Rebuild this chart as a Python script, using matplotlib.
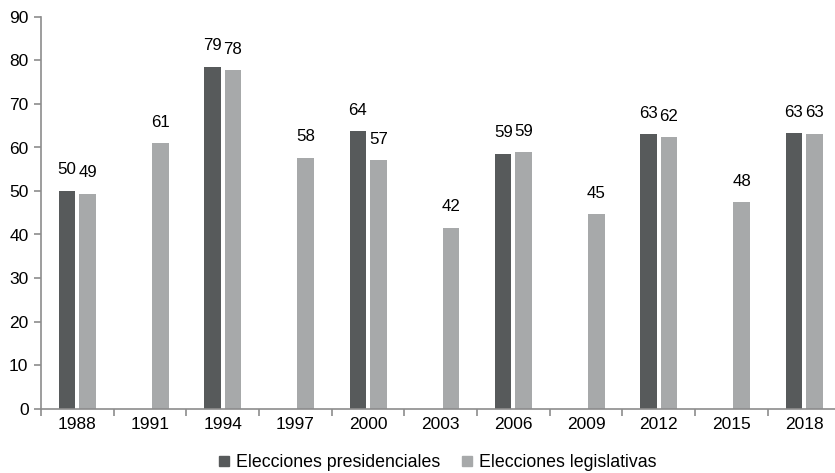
import numpy as np
import matplotlib
matplotlib.use("Agg")
import matplotlib.pyplot as plt
from matplotlib.lines import Line2D

plt.rcParams['font.family'] = ['Liberation Sans', 'DejaVu Sans']

years = ['1988', '1991', '1994', '1997', '2000', '2003', '2006', '2009', '2012', '2015', '2018']
# nan where there was no presidential election that year
presidenciales = [50.1, np.nan, 78.6, np.nan, 63.8, np.nan, 58.6, np.nan, 63.1, np.nan, 63.3]
legislativas = [49.4, 61.1, 77.8, 57.7, 57.1, 41.6, 58.9, 44.6, 62.3, 47.5, 63.2]

dark = '#575a5b'
light = '#a7a9aa'
axis_grey = '#8c8c8c'

fig = plt.figure(figsize=(8.35, 4.73), dpi=100)
ax = fig.add_axes([41 / 835, 64.5 / 473, 799.5 / 835, 391.5 / 473])

x = np.arange(len(years))
w = 0.227
off = 0.141
ax.bar(x - off, presidenciales, w, color=dark)
ax.bar(x + off, legislativas, w, color=light)

for xi, v in zip(x, presidenciales):
    if not np.isnan(v):
        ax.annotate('%d' % round(v), (xi - off, v), xytext=(0, 9.5), textcoords='offset points',
                    ha='center', va='bottom', fontsize=12.2)
for xi, v in zip(x, legislativas):
    ax.annotate('%d' % round(v), (xi + off, v), xytext=(0, 9.5), textcoords='offset points',
                ha='center', va='bottom', fontsize=12.2)

ax.set_xlim(-0.5, len(years) - 0.5)
ax.set_ylim(0, 90)
ax.set_yticks(range(0, 91, 10))
ax.set_xticks(x)
ax.set_xticklabels(years)
ax.set_xticks(np.arange(len(years) + 1) - 0.5, minor=True)

for s in ['top', 'right']:
    ax.spines[s].set_visible(False)
for s in ['left', 'bottom']:
    ax.spines[s].set_color(axis_grey)
    ax.spines[s].set_linewidth(1.2)

ax.tick_params(axis='x', which='major', length=0, labelsize=12.5, pad=6)
ax.tick_params(axis='x', which='minor', length=5, width=1.2, color=axis_grey)
ax.tick_params(axis='y', length=5, width=1.2, color=axis_grey, labelsize=12.5, pad=4)

handles = [Line2D([], [], marker='s', linestyle='none', markersize=7.5, color=dark),
           Line2D([], [], marker='s', linestyle='none', markersize=7.5, color=light)]
fig.legend(handles, ['Elecciones presidenciales', 'Elecciones legislativas'],
           loc='lower center', bbox_to_anchor=(0.523, -0.03), ncol=2, frameon=False,
           fontsize=12.8, handletextpad=0.25, columnspacing=1.1, handlelength=0.8)

fig.savefig('out.png', dpi=100)
